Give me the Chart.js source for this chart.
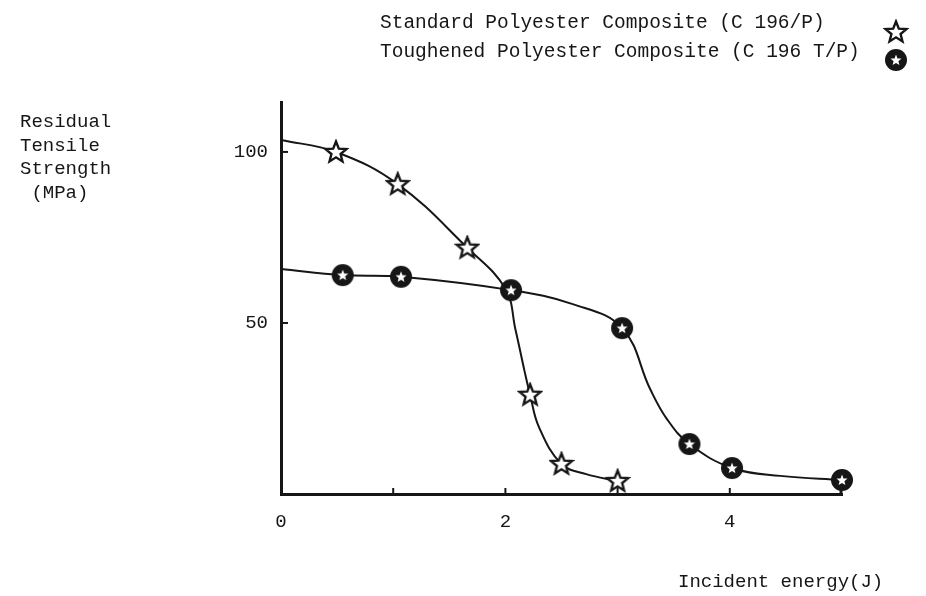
<!DOCTYPE html>
<html>
<head>
<meta charset="utf-8">
<title>Residual tensile strength vs incident energy</title>
<script src="https://cdn.jsdelivr.net/npm/chart.js@4.4.1/dist/chart.umd.min.js"></script>
<style>
html, body { margin: 0; padding: 0; background: #fff; }
#wrap { width: 926px; height: 596px; position: relative; }
</style>
</head>
<body>
<div id="wrap"><canvas id="chart"></canvas></div>
<script>
// measured points (incident energy J, strength MPa)
const standardX = [0.49, 1.04, 1.66, 2.22, 2.50, 3.00];
const standardY = [100, 90.6, 72, 29, 8.8, 3.8];
const toughenedX = [0.55, 1.07, 2.05, 3.04, 3.64, 4.02, 5.00];
const toughenedY = [64, 63.5, 59.6, 48.5, 14.6, 7.6, 4.1];

// hand drawn curves
const standardCurveX = [0, 0.49, 1.04, 1.66, 2.0, 2.09, 2.17, 2.22, 2.30, 2.50, 2.72, 3.00];
const standardCurveY = [103.5, 100, 90.6, 72, 60, 48, 36, 29, 19.5, 8.8, 5.8, 3.8];
const toughenedCurveX = [0, 0.55, 1.07, 2.05, 2.60, 3.04, 3.29, 3.44, 3.64, 4.02, 4.45, 5.00];
const toughenedCurveY = [65.8, 64, 63.5, 59.6, 55.5, 48.5, 30.7, 21.9, 14.6, 7.6, 5.3, 4.1];

const xTickLabels = [0, 2, 4];
const xTickMarks = [1, 2, 3, 4];
const yTickLabels = [50, 100];

const legendLabels = ['Standard Polyester Composite (C 196/P)', 'Toughened Polyester Composite (C 196 T/P)'];
const yTitle = ['Residual', 'Tensile', 'Strength', ' (MPa)'];
const xTitle = 'Incident energy(J)';

const ink = '#161616';
const font = '"Liberation Mono", "DejaVu Sans Mono", monospace';

function starPath(ctx, cx, cy, ro, ri) {
ctx.beginPath();
for (let i = 0; i < 10; i++) {
let r = i % 2 === 0 ? ro : ri;
let a = -Math.PI / 2 + i * Math.PI / 5;
let px = cx + r * Math.cos(a);
let py = cy + r * Math.sin(a);
if (i === 0) ctx.moveTo(px, py); else ctx.lineTo(px, py);
}
ctx.closePath();
}

// open star marker
const starImg = document.createElement('canvas');
starImg.width = 26; starImg.height = 26;
(function () {
let c = starImg.getContext('2d');
starPath(c, 13, 13.5, 11, 4.8);
c.fillStyle = '#fff';
c.fill();
c.lineWidth = 2.4;
c.lineJoin = 'miter';
c.strokeStyle = ink;
c.stroke();
})();

// black disc with white star
const discImg = document.createElement('canvas');
discImg.width = 24; discImg.height = 24;
(function () {
let c = discImg.getContext('2d');
c.beginPath();
c.arc(12, 12, 11, 0, Math.PI * 2);
c.fillStyle = ink;
c.fill();
starPath(c, 12, 12.4, 5.8, 2.5);
c.fillStyle = '#fff';
c.fill();
})();

const toPoints = (xs, ys) => xs.map((x, i) => ({ x: x, y: ys[i] }));

// texts, legend and inward tick marks
const annotate = {
id: 'annotate',
afterDraw(chart) {
const ctx = chart.ctx;
const xs = chart.scales.x;
const ys = chart.scales.y;
const area = chart.chartArea;
ctx.save();
ctx.strokeStyle = ink;
ctx.lineWidth = 2;
xTickMarks.forEach(v => {
let px = xs.getPixelForValue(v);
ctx.beginPath();
ctx.moveTo(px, area.bottom);
ctx.lineTo(px, area.bottom - 6);
ctx.stroke();
});
// axis end turns up
ctx.lineWidth = 3;
ctx.beginPath();
ctx.moveTo(area.right - 1, area.bottom);
ctx.lineTo(area.right - 1, area.bottom - 7);
ctx.stroke();
ctx.lineWidth = 2;
yTickLabels.forEach(v => {
let py = ys.getPixelForValue(v);
ctx.beginPath();
ctx.moveTo(area.left, py);
ctx.lineTo(area.left + 7, py);
ctx.stroke();
});

ctx.fillStyle = ink;
ctx.textBaseline = 'middle';
ctx.textAlign = 'left';
ctx.font = '19.5px ' + font;
ctx.fillText(legendLabels[0], 380, 23);
ctx.fillText(legendLabels[1], 380, 52);
ctx.drawImage(starImg, 896 - 13, 32 - 13);
ctx.drawImage(discImg, 896 - 12, 60 - 12);

ctx.font = '19px ' + font;
yTitle.forEach((t, i) => ctx.fillText(t, 20, 122 + i * 23.5));
ctx.fillText(xTitle, 678, 582);
ctx.restore();
}
};

const curveStyle = {
showLine: true,
pointRadius: 0,
borderColor: ink,
borderWidth: 2,
tension: 0.4,
clip: false,
order: 2
};

const config = {
type: 'scatter',
data: {
datasets: [{
label: legendLabels[0],
data: toPoints(standardX, standardY),
pointStyle: starImg,
pointRadius: 11,
showLine: false,
clip: false,
order: 1
}, {
label: legendLabels[1],
data: toPoints(toughenedX, toughenedY),
pointStyle: discImg,
pointRadius: 11,
showLine: false,
clip: false,
order: 1
}, Object.assign({
label: 'standard curve',
data: toPoints(standardCurveX, standardCurveY)
}, curveStyle), Object.assign({
label: 'toughened curve',
data: toPoints(toughenedCurveX, toughenedCurveY)
}, curveStyle)]
},
options: {
responsive: true,
maintainAspectRatio: false,
animation: false,
events: [],
layout: {
padding: { left: 0, right: 84, top: 102, bottom: 0 }
},
scales: {
x: {
type: 'linear',
min: 0,
max: 5,
afterBuildTicks: scale => { scale.ticks = xTickLabels.map(v => ({ value: v })); },
afterFit: scale => { scale.height = 102; },
border: { display: true, color: ink, width: 3 },
grid: { display: true, drawOnChartArea: false, drawTicks: false, color: 'rgba(0,0,0,0)' },
ticks: {
color: ink,
padding: 17,
maxRotation: 0,
font: { family: font, size: 19 }
}
},
y: {
type: 'linear',
min: 0,
max: 114.6,
afterBuildTicks: scale => { scale.ticks = yTickLabels.map(v => ({ value: v })); },
afterFit: scale => { scale.width = 281; },
border: { display: true, color: ink, width: 3 },
grid: { display: true, drawOnChartArea: false, drawTicks: false, color: 'rgba(0,0,0,0)' },
ticks: {
color: ink,
padding: 13,
font: { family: font, size: 19 }
}
}
},
plugins: {
legend: { display: false },
tooltip: { enabled: false }
}
},
plugins: [annotate]
};

new Chart(document.getElementById('chart').getContext('2d'), config);
</script>
</body>
</html>
